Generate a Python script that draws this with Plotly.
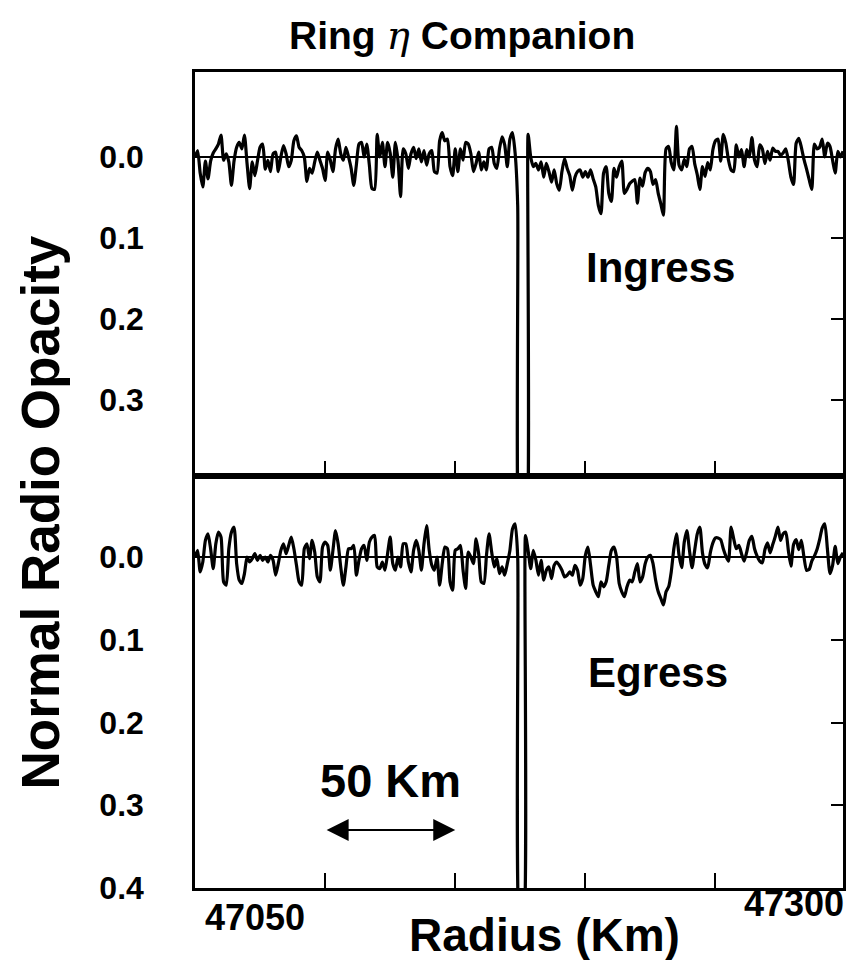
import numpy as np
import plotly.graph_objects as go

# ---------------- data ----------------
radius_start = 47050.0   # km, first sample
radius_step = 1.0        # km between samples

ingress = [
    0.0, -0.008, 0.020, 0.037, 0.005, 0.027, 0.005, -0.005, -0.010, -0.016,
    -0.027, 0.004, -0.004, 0.006, 0.035, 0.005, -0.012, -0.018, -0.010, -0.027,
    0.008, 0.039, 0.006, 0.023, 0.005, -0.012, -0.016, 0.015, 0.004, 0.018,
    -0.004, -0.006, 0.018, 0.0, -0.014, -0.004, 0.012, 0.004, -0.020, -0.026,
    -0.012, -0.008, 0.0, 0.030, 0.014, 0.020, 0.006, -0.006, 0.004, 0.014,
    0.029, -0.006, 0.004, 0.018, -0.010, -0.022, -0.004, 0.004, -0.012, 0.0,
    0.014, 0.035, 0.010, -0.016, -0.018, 0.0, -0.016, 0.010, 0.039, 0.040,
    -0.028, 0.0, -0.018, 0.012, -0.018, -0.005, 0.025, -0.018, 0.004, 0.049,
    -0.010, -0.004, 0.014, -0.004,
    -0.012, 0.002, -0.010, 0.006, -0.008, 0.010, -0.004, -0.008, 0.018, 0.020,
    -0.020, -0.030, -0.020, -0.022, 0.012, 0.023, -0.010, 0.018, -0.010, 0.004,
    -0.018, -0.016, -0.004, 0.018, 0.008, -0.006, 0.016, 0.006, 0.016, -0.010,
    -0.012, 0.008, 0.014, -0.010, -0.025, -0.015, 0.012, -0.022, -0.030, -0.005,
    0.06, 0.5, 0.5, 0.5, -0.028,
    0.0, 0.012, 0.008, 0.016, 0.006, 0.025, 0.008, 0.018, 0.031, 0.016,
    0.033, 0.041, 0.018, 0.002, 0.014, 0.023, 0.041, 0.025, 0.018, 0.016,
    0.025, 0.018, 0.025, 0.016, 0.027, 0.037, 0.060, 0.070, 0.020, 0.012,
    0.045, 0.055, 0.014, 0.025, 0.012, 0.005, 0.045, 0.040, 0.033,
    0.030, 0.028, 0.057, 0.026, 0.036, 0.019, 0.014, 0.018, 0.034, 0.028,
    0.045, 0.058, 0.072, -0.010, -0.013, 0.007, 0.016, -0.038, 0.010, 0.016,
    0.003, 0.012, -0.010, -0.013, 0.008, 0.022, 0.040, 0.012, 0.024, 0.007,
    0.016, -0.009, -0.020, -0.022, 0.005, -0.028, -0.017, 0.004, 0.016, 0.018,
    -0.015, 0.0, -0.009, 0.012, -0.009, 0.0, -0.024, 0.004, 0.012, -0.015,
    -0.010, 0.008, -0.007, 0.004, -0.011, -0.007, -0.007, -0.002, -0.005, -0.010,
    0.005, 0.025, 0.034, -0.017, -0.023, -0.012, 0.003, 0.015, 0.028, 0.040,
    -0.016, -0.010, -0.012, -0.022, 0.0, -0.017, -0.013, 0.004, 0.020, -0.007,
    0.0, -0.007,
]

egress = [
    0.0, -0.008, 0.018, 0.006, -0.020, -0.028, -0.010, 0.014, -0.016, -0.030,
    -0.024, 0.030, 0.034, -0.010, -0.030, -0.036, 0.008, 0.028, 0.032, 0.020,
    0.0, 0.006, 0.002, -0.004, 0.004, -0.002, 0.004, 0.0, 0.006, -0.002,
    0.004, 0.022, 0.008, -0.008, -0.016, -0.004, -0.014, -0.024, -0.010, 0.010,
    0.030, 0.034, -0.010, -0.016, 0.002, -0.020, -0.006, 0.024, 0.030, -0.012,
    -0.018, -0.014, 0.016, -0.008, -0.032, -0.016, 0.012, 0.034, 0.012, -0.010,
    -0.010, -0.014, 0.022, 0.004, -0.010, -0.014, 0.004, -0.018, -0.024, -0.026,
    0.012, 0.014, 0.006, 0.016, -0.004, -0.024, 0.008, 0.016, 0.0, 0.012,
    -0.016, -0.016, 0.006, 0.018,
    -0.008, -0.020, -0.008, 0.016, -0.016, -0.038, -0.008, 0.010, 0.016, 0.0,
    0.034, 0.008, -0.012, -0.010, 0.030, 0.040, -0.008, -0.010, -0.014, 0.016,
    0.038, -0.006, 0.0, 0.008, -0.022, -0.004, 0.030, 0.032, -0.002, -0.028,
    -0.006, 0.012, 0.002, 0.020, 0.012, 0.022, 0.008, -0.008, -0.034, -0.040,
    0.0, 0.46, 0.46,
    -0.026, -0.008, 0.014, -0.008, 0.004, 0.022, 0.004, 0.028, 0.016, 0.012,
    0.026, 0.010, 0.006, 0.010, 0.016, 0.024, 0.022, 0.018, 0.022, 0.010,
    0.016, 0.034, 0.026, -0.002, -0.012, 0.010, 0.034, 0.042, 0.048, 0.030,
    0.036, 0.030, 0.010, -0.008, -0.012, 0.0, 0.032, 0.042, 0.048, 0.036,
    0.028,
    0.030, 0.018, 0.008, 0.030, 0.024, 0.008, 0.0, -0.002, 0.008, 0.028,
    0.042, 0.050, 0.058, 0.042, 0.036, 0.018, -0.010, -0.028, -0.002, 0.013,
    -0.018, -0.032, -0.008, 0.013, -0.008, -0.028, -0.036, -0.005, 0.009, 0.013,
    -0.005, -0.017, -0.023, -0.023, -0.021, -0.010, -0.001, 0.005, -0.036, -0.022,
    -0.010, -0.014, -0.004, 0.005, -0.006, -0.020, -0.025, -0.010, -0.001, 0.005,
    0.007, -0.009, -0.017, -0.005, -0.015, -0.025, -0.036, -0.020, -0.028, -0.030,
    -0.008, 0.011, -0.015, -0.021, -0.009, -0.020, 0.0, 0.016, 0.015, 0.005,
    -0.001, -0.009, -0.021, -0.035, -0.040, -0.010, 0.020, 0.010, -0.013, 0.008,
    0.0, -0.005,
]

radius = radius_start + radius_step * np.arange(len(ingress))

x_ticks = [47100, 47150, 47200, 47250]
x_end_labels = ["47050", "47300"]
x_range = [47050, 47299]
y_ticks_top = [0.0, 0.1, 0.2, 0.3]
y_ticks_bottom = [0.0, 0.1, 0.2, 0.3, 0.4]
y_right_ticks = [0.1, 0.2, 0.3]
scale_bar = [47100, 47150]   # the "50 Km" arrow
scale_bar_level = 0.33

FONT = "Liberation Sans, Arial, Helvetica, sans-serif"

# ---------------- figure ----------------
fig = go.Figure()
line_style = dict(color="black", width=3.2, shape="spline", smoothing=0.6)
fig.add_trace(go.Scatter(x=radius, y=ingress, mode="lines", line=line_style,
                         xaxis="x", yaxis="y", showlegend=False, hoverinfo="skip"))
fig.add_trace(go.Scatter(x=radius, y=egress, mode="lines", line=line_style,
                         xaxis="x2", yaxis="y2", showlegend=False, hoverinfo="skip"))
# placeholders so the right-hand tick axes get drawn
fig.add_trace(go.Scatter(x=[None], y=[None], xaxis="x", yaxis="y3", showlegend=False))
fig.add_trace(go.Scatter(x=[None], y=[None], xaxis="x2", yaxis="y4", showlegend=False))

split = 0.505
xcommon = dict(range=x_range, tickvals=x_ticks, ticks="inside", ticklen=15,
               tickwidth=1.5, tickcolor="black", showticklabels=False,
               showline=True, linecolor="black", linewidth=2.5, mirror=True,
               showgrid=False, zeroline=False, domain=[0, 1])
ycommon = dict(ticks="", showline=True, linecolor="black", linewidth=2.5,
               mirror=True, showgrid=False, zeroline=True, zerolinecolor="black",
               zerolinewidth=1.6, ticklabelstandoff=42,
               tickfont=dict(family=FONT, size=32, color="black"))
yright = dict(side="right", ticks="inside", ticklen=12, tickwidth=1.5,
              tickcolor="black", showticklabels=False, showline=False,
              showgrid=False, zeroline=False)

fig.update_layout(
    width=851, height=960,
    margin=dict(l=195, r=5, t=72, b=72),
    paper_bgcolor="white", plot_bgcolor="white",
    font=dict(family=FONT, color="black"),
    xaxis=dict(anchor="y", **xcommon),
    xaxis2=dict(anchor="y2", **xcommon),
    yaxis=dict(anchor="x", domain=[split, 1], range=[0.394, -0.105],
               tickvals=y_ticks_top,
               ticktext=["<b>%.1f</b>" % v for v in y_ticks_top], **ycommon),
    yaxis2=dict(anchor="x2", domain=[0, split], range=[0.4, -0.098],
                tickvals=y_ticks_bottom,
                ticktext=["<b>%.1f</b>" % v for v in y_ticks_bottom], **ycommon),
    yaxis3=dict(overlaying="y", anchor="x", range=[0.394, -0.105],
                tickvals=y_right_ticks, **yright),
    yaxis4=dict(overlaying="y2", anchor="x2", range=[0.4, -0.098],
                tickvals=y_right_ticks, **yright),
)

ann = []
ann.append(dict(text="<b>Ring</b> <span style='font-family:DejaVu Serif'><i>η</i></span> <b>Companion</b>",
                xref="paper", yref="paper", x=0.412, y=1.045,
                xanchor="center", yanchor="middle", showarrow=False,
                font=dict(size=39, family=FONT)))
ann.append(dict(text="<b>Normal Radio Opacity</b>", textangle=-90,
                xref="paper", yref="paper", x=-0.238, y=0.46,
                xanchor="center", yanchor="middle", showarrow=False,
                font=dict(size=53, family=FONT)))
ann.append(dict(text="<b>Radius (Km)</b>", xref="paper", yref="paper", x=0.54, y=-0.057,
                xanchor="center", yanchor="middle", showarrow=False,
                font=dict(size=46, family=FONT)))
ann.append(dict(text="<b>%s</b>" % x_end_labels[0], xref="x2", yref="paper",
                x=x_range[0], y=-0.036, xanchor="left", yanchor="middle", xshift=8,
                showarrow=False, font=dict(size=36, family=FONT)))
ann.append(dict(text="<b>%s</b>" % x_end_labels[1], xref="x2", yref="paper",
                x=x_range[1], y=-0.019, xanchor="right", yanchor="middle", xshift=3,
                showarrow=False, font=dict(size=36, family=FONT)))
ann.append(dict(text="<b>Ingress</b>", xref="x", yref="y", x=47229, y=0.137,
                xanchor="center", yanchor="middle", showarrow=False,
                font=dict(size=42, family=FONT)))
ann.append(dict(text="<b>Egress</b>", xref="x2", yref="y2", x=47228, y=0.14,
                xanchor="center", yanchor="middle", showarrow=False,
                font=dict(size=42, family=FONT)))
ann.append(dict(text="<b>50 Km</b>", xref="x2", yref="y2",
                x=(scale_bar[0] + scale_bar[1]) / 2, y=0.27,
                xanchor="center", yanchor="middle", showarrow=False,
                font=dict(size=47, family=FONT)))
ann.append(dict(text="", xref="x2", yref="y2", axref="x2", ayref="y2",
                x=scale_bar[1], y=scale_bar_level, ax=scale_bar[0], ay=scale_bar_level,
                showarrow=True, arrowside="end+start", arrowhead=2, startarrowhead=2,
                arrowsize=2.2, startarrowsize=2.2, arrowwidth=2, arrowcolor="black"))
fig.update_layout(annotations=ann)

fig.write_html("out.html")
